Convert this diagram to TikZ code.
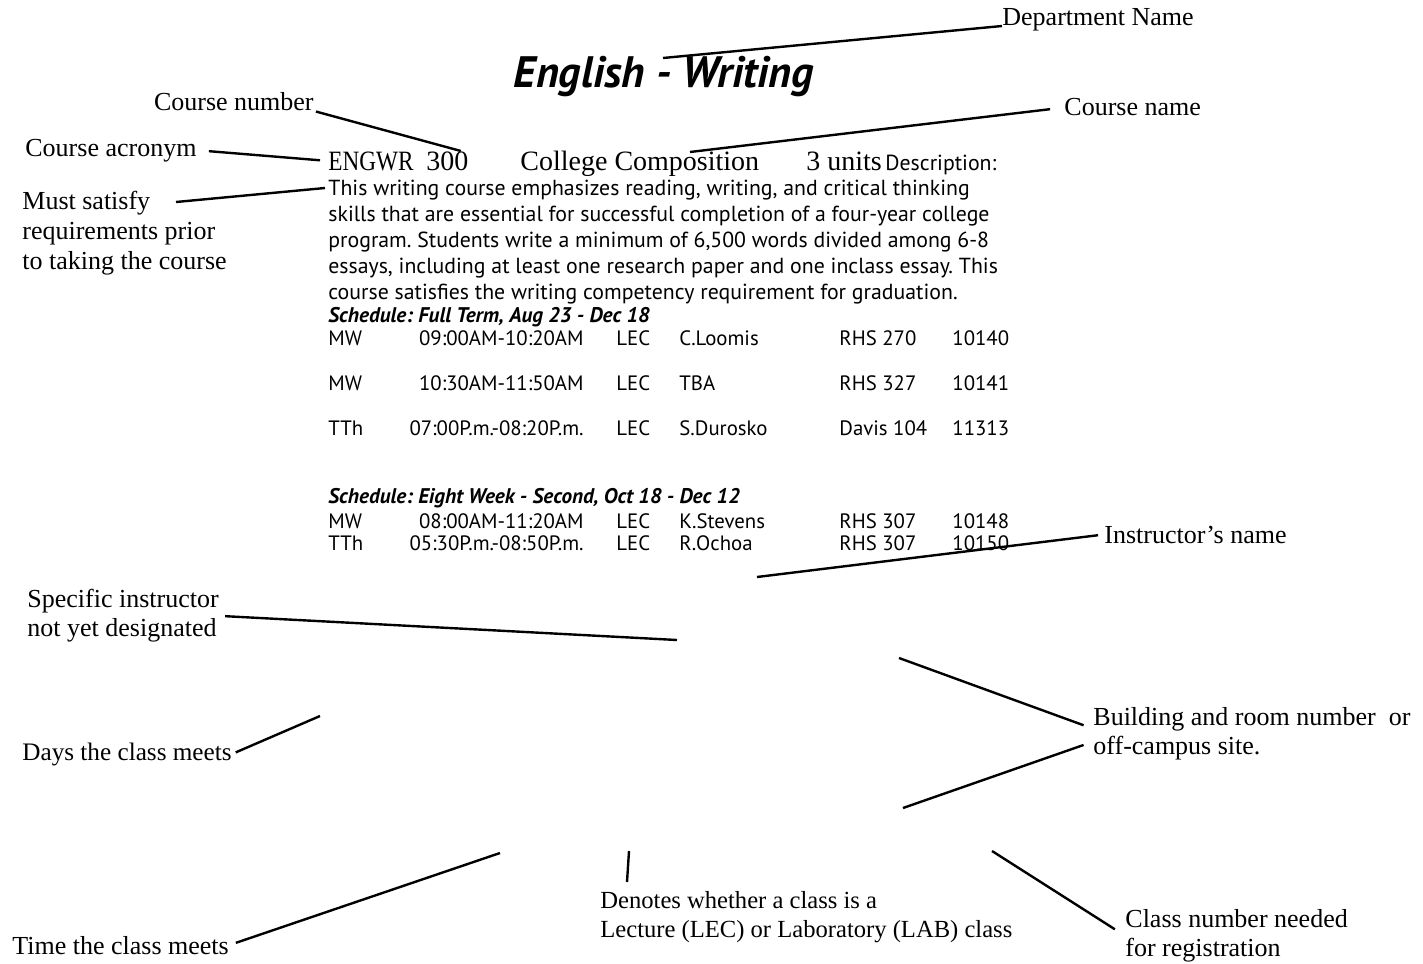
\documentclass[tikz,border=0pt]{standalone}
\usepackage{fontspec}
\setmainfont{Liberation Serif}
\newfontfamily\myriad{PT Sans}
\newfontfamily\narrowserif[FakeStretch=0.83]{Liberation Serif}
\usepackage{tikz}
\frenchspacing
\tikzset{
  callout/.style={font=\fontsize{13}{14.5}\selectfont, inner sep=0pt, align=left},
  leader/.style={line width=1.2pt, black},
  courseinfo/.style={font=\fontsize{14}{16}\selectfont, inner sep=0pt, anchor=base west},
  body/.style={font=\myriad\fontsize{10.9}{13}\selectfont, inner sep=0pt, align=left},
  cell/.style={font=\myriad\fontsize{10.4}{12}\selectfont, inner sep=0pt, anchor=base west},
  timecell/.style={font=\myriad\fontsize{10.4}{12}\selectfont, inner sep=0pt, anchor=base east},
  schedhead/.style={font=\myriad\bfseries\itshape\fontsize{10.6}{12}\selectfont, inner sep=0pt, anchor=base west}
}

\begin{document}
\begin{tikzpicture}[x=0.5pt, y=-0.5pt]
  \useasboundingbox (0,0) rectangle (1423,963);

  % title and course line
  \node[font=\myriad\bfseries\itshape\fontsize{22}{24}\selectfont, inner sep=0pt] (title) at (664,77) {English - Writing};
  \node[courseinfo, font=\narrowserif\fontsize{14}{16}\selectfont] (acr) at (328,170) {ENGWR};
  \node[courseinfo] (num) at (426,170) {300};
  \node[courseinfo] (cname) at (520,170) {College Composition};
  \node[courseinfo] (units) at (806,170) {3 units};
  \node[body, anchor=base west] (desclabel) at (885,170) {Description:};
  \node[body, anchor=north west] (desc) at (328,180) {This writing course emphasizes reading, writing, and critical thinking\\
    skills that are essential for successful completion of a four-year college\\
    program. Students write a minimum of 6,500 words divided among 6-8\\
    essays, including at least one research paper and one inclass essay. This\\
    course satisfies the writing competency requirement for graduation.};

  % schedule: full term
  \node[schedhead] (sched1) at (328,322) {Schedule: Full Term, Aug 23 - Dec 18};
  \node[cell] (r1day) at (328,345) {MW};
  \node[timecell] (r1time) at (584,345) {09:00AM-10:20AM};
  \node[cell] (r1type) at (616,345) {LEC};
  \node[cell] (r1inst) at (679,345) {C.Loomis};
  \node[cell] (r1room) at (839,345) {RHS 270};
  \node[cell] (r1nr) at (952,345) {10140};
  \node[cell] (r2day) at (328,390) {MW};
  \node[timecell] (r2time) at (584,390) {10:30AM-11:50AM};
  \node[cell] (r2type) at (616,390) {LEC};
  \node[cell] (r2inst) at (679,390) {TBA};
  \node[cell] (r2room) at (839,390) {RHS 327};
  \node[cell] (r2nr) at (952,390) {10141};
  \node[cell] (r3day) at (328,435) {TTh};
  \node[timecell] (r3time) at (584,435) {07:00P.m.-08:20P.m.};
  \node[cell] (r3type) at (616,435) {LEC};
  \node[cell] (r3inst) at (679,435) {S.Durosko};
  \node[cell] (r3room) at (839,435) {Davis 104};
  \node[cell] (r3nr) at (952,435) {11313};

  % schedule: eight week
  \node[schedhead] (sched2) at (328,503) {Schedule: Eight Week - Second, Oct 18 - Dec 12};
  \node[cell] (r4day) at (328,528) {MW};
  \node[timecell] (r4time) at (584,528) {08:00AM-11:20AM};
  \node[cell] (r4type) at (616,528) {LEC};
  \node[cell] (r4inst) at (679,528) {K.Stevens};
  \node[cell] (r4room) at (839,528) {RHS 307};
  \node[cell] (r4nr) at (952,528) {10148};
  \node[cell] (r5day) at (328,550) {TTh};
  \node[timecell] (r5time) at (584,550) {05:30P.m.-08:50P.m.};
  \node[cell] (r5type) at (616,550) {LEC};
  \node[cell] (r5inst) at (679,550) {R.Ochoa};
  \node[cell] (r5room) at (839,550) {RHS 307};
  \node[cell] (r5nr) at (952,550) {10150};

  % callouts
  \node[callout, anchor=base west] (lblDept) at (1002,26) {Department Name};
  \node[callout, anchor=base east] (lblNum) at (314,111) {Course number};
  \node[callout, anchor=base west] (lblCname) at (1064,116) {Course name};
  \node[callout, anchor=base west] (lblAcr) at (25,156) {Course acronym};
  \node[callout, anchor=north west, font=\fontsize{13}{15}\selectfont] (lblReq) at (22,191) {Must satisfy\\requirements prior\\to taking the course};
  \node[callout, anchor=base west] (lblInstr) at (1104,543) {Instructor’s name};
  \node[callout, anchor=north west] (lblSpec) at (27,589) {Specific instructor\\not yet designated};
  \node[callout, anchor=base west, font=\fontsize{12.6}{14.5}\selectfont] (lblDays) at (22,760) {Days the class meets};
  \node[callout, anchor=north west] (lblBldg) at (1093,707) {Building and room number~ or\\off-campus site.};
  \node[callout, anchor=base west] (lblTime) at (12,954) {Time the class meets};
  \node[callout, anchor=north west, font=\fontsize{12.3}{14.5}\selectfont] (lblLec) at (600,891) {Denotes whether a class is a\\Lecture (LEC) or Laboratory (LAB) class};
  \node[callout, anchor=north west] (lblCnum) at (1125,909) {Class number needed\\for registration};

  % free ends
  \coordinate (deptTip) at (663,58);
  \coordinate (reqStart) at (176,202);
  \coordinate (cnameTip) at (690,152);
  \coordinate (instrTip) at (757,577);
  \coordinate (specTip) at (677,640);
  \coordinate (daysTip) at (320,716);
  \coordinate (roomTip) at (899,658);
  \coordinate (siteTip) at (903,808);
  \coordinate (timeTip) at (500,853);
  \coordinate (lecTip) at (629,851);
  \coordinate (nrTip) at (992,851);

  % leaders
  \draw[leader] (lblDept.base west) -- (deptTip);
  \draw[leader, shorten <=1pt] (lblNum.base east) -- ([xshift=-4pt]num.north east);
  \draw[leader, shorten <=6pt, shorten >=4pt] (lblAcr.east) -- (acr.west);
  \draw[leader] (reqStart) -- ([xshift=-1.5pt, yshift=-4pt]desc.north west);
  \draw[leader, shorten <=7pt] (lblCname.west) -- (cnameTip);
  \draw[leader, shorten <=3pt] (lblInstr.west) -- (instrTip);
  \draw[leader, shorten <=3pt] (lblSpec.east) -- (specTip);
  \draw[leader, shorten <=2pt] (lblDays.east) -- (daysTip);
  \draw[leader, shorten <=5pt] ([yshift=2.5pt]lblBldg.west) -- (roomTip);
  \draw[leader, shorten <=5pt] ([yshift=-4pt]lblBldg.west) -- (siteTip);
  \draw[leader, shorten <=3.5pt] (lblTime.east) -- (timeTip);
  \draw[leader] ([xshift=13.5pt, yshift=4.5pt]lblLec.north west) -- (lecTip);
  \draw[leader, shorten <=6pt] (lblCnum.west) -- (nrTip);
\end{tikzpicture}
\end{document}
